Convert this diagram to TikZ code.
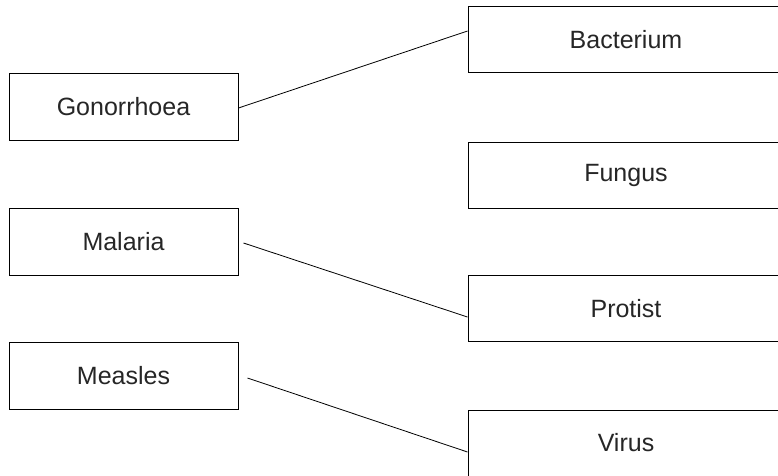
\documentclass[tikz,border=0pt]{standalone}
\usepackage{fontspec}
\setmainfont{Liberation Sans}

\tikzset{
  disease/.style={draw, line width=1pt, minimum width=229pt, minimum height=67pt,
    font=\fontsize{25}{29}\selectfont, text=black!85},
  cause/.style={draw, line width=1pt, minimum width=316pt, minimum height=66pt,
    font=\fontsize{25}{29}\selectfont, text=black!85},
}

\begin{document}
\begin{tikzpicture}[x=1pt,y=-1pt]
\useasboundingbox (0,0) rectangle (778,475);
\clip (0,0) rectangle (778,475);

\node[disease] (gon) at (123.5,107) {Gonorrhoea};
\node[disease] (mal) at (123.5,241.5) {Malaria};
\node[disease] (mea) at (123.5,376) {Measles};

\node[cause] (bac) at (626,39.5) {Bacterium};
\node[cause] (fun) at (626,175) {Fungus};
\node[cause] (pro) at (626,308.5) {Protist};
\node[cause] (vir) at (626,443) {Virus};

\path[draw,line width=0.8pt,-] ([yshift=-1pt]gon.east) -- ([yshift=8.5pt]bac.west);
\path[draw,line width=0.8pt,-] ([xshift=5pt,yshift=-1.5pt]mal.east) -- ([yshift=-8.5pt]pro.west);
\path[draw,line width=0.8pt,-] ([xshift=9pt,yshift=-2pt]mea.east) -- ([yshift=-9pt]vir.west);
\end{tikzpicture}
\end{document}
